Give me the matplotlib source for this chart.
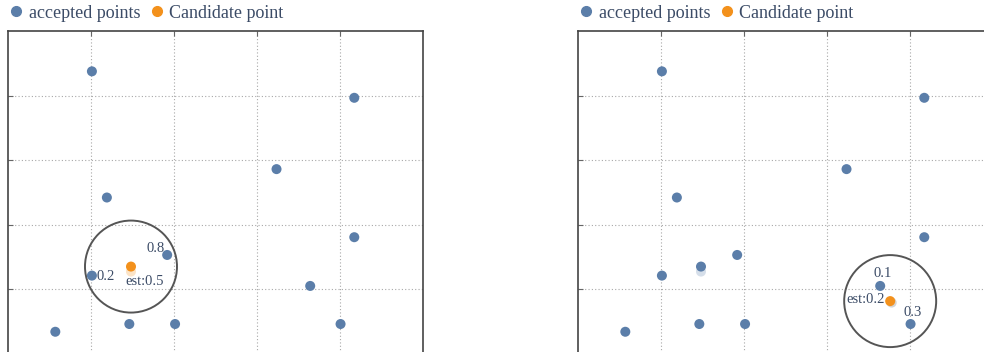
import matplotlib
matplotlib.use("Agg")
import matplotlib.pyplot as plt
from matplotlib.lines import Line2D
from matplotlib.transforms import ScaledTranslation
import numpy as np

# ---- data ----
accepted_x = [20.3, 83.4, 64.7, 23.9, 83.4, 38.4, 20.3, 72.8, 11.5, 29.3, 40.3, 80.1]
accepted_y = [87.5, 79.3, 57.2, 48.4, 36.1, 30.6, 24.2, 21.0, 6.8, 9.2, 9.2, 9.2]

cand1 = (29.7, 27.0)
cand1_est = "est:0.5"
cand1_neighbors = [5, 6]          # indices into accepted lists
cand1_labels = ["0.8", "0.2"]

cand2 = (75.2, 16.3)
cand2_est = "est:0.2"
cand2_neighbors = [7, 11]
cand2_labels = ["0.1", "0.3"]

grid_ticks = [20, 40, 60, 80]

BLUE = "#5b7ea9"
ORANGE = "#f3911c"
TEXT = "#3b4b66"
FONT = ["Liberation Serif", "DejaVu Serif"]
DOT = 52

W, H = 984, 352
fig = plt.figure(figsize=(W / 100, H / 100), dpi=100)

def px_axes(left_px):
    l = left_px / W
    w = 415.8 / W
    b = (H - 353.7) / H
    h = (353.7 - 31.0) / H
    return fig.add_axes([l, b, w, h])

def setup(ax):
    ax.set_xlim(0, 100)
    ax.set_ylim(0, 100)
    ax.set_xticks(grid_ticks)
    ax.set_yticks(grid_ticks)
    ax.tick_params(direction="in", length=3.5, width=0.8, color="#666666",
                   labelbottom=False, labelleft=False, top=True, bottom=False,
                   left=True, right=False)
    ax.grid(True, color="#a8a8a8", linestyle=(0, (1, 2)), linewidth=0.8)
    for s in ax.spines.values():
        s.set_color("#444444")
        s.set_linewidth(1.2)
    ax.set_axisbelow(True)
    leg = ax.legend(handles=[
        Line2D([], [], marker="o", ls="none", color=BLUE, markersize=7, label="accepted points"),
        Line2D([], [], marker="o", ls="none", color=ORANGE, markersize=7, label="Candidate point")],
        loc="lower left", bbox_to_anchor=(-0.031, 0.995), ncol=2, frameon=False,
        handletextpad=0.1, columnspacing=0.3, handlelength=1.2, borderaxespad=0.2,
        prop={"family": FONT, "size": 13})
    for t in leg.get_texts():
        t.set_color(TEXT)

def shadow_tr(ax, dx_px, dy_px):
    return ax.transData + ScaledTranslation(dx_px / 100, dy_px / 100, fig.dpi_scale_trans)

def draw(ax, ax_x, ax_y, cand, est, neigh, labels, label_offsets, est_offset, est_ha):
    ax.scatter(ax_x, ax_y, s=DOT, color=BLUE, edgecolors="none", zorder=3)
    ax.scatter([cand[0]], [cand[1]], s=DOT, color=ORANGE, edgecolors="none", zorder=4)
    # search radius circle (constant pixel radius)
    ax.scatter([cand[0]], [cand[1]], s=(92 * 0.72) ** 2, facecolors="none",
               edgecolors="#555555", linewidths=1.4, zorder=2)
    for i, lab, off in zip(neigh, labels, label_offsets):
        ax.annotate(lab, (ax_x[i], ax_y[i]), xytext=off, textcoords="offset points",
                    ha="center", va="center", color=TEXT, fontsize=10.5,
                    family=FONT, zorder=5)
    ax.annotate(est, cand, xytext=est_offset, textcoords="offset points",
                ha=est_ha, va="center", color=TEXT, fontsize=10.5, family=FONT, zorder=5)

ax1 = px_axes(7.5)
setup(ax1)
# faint reflection under candidate 1
ax1.scatter([cand1[0]], [cand1[1]], s=DOT, color=ORANGE, alpha=0.25,
            edgecolors="none", transform=shadow_tr(ax1, 0, -5), zorder=3)
draw(ax1, accepted_x, accepted_y, cand1, cand1_est, cand1_neighbors, cand1_labels,
     [(-8, 5), (10, -1)], (-4.3, -10.5), "left")

ax2_x = accepted_x + [cand1[0]]
ax2_y = accepted_y + [cand1[1]]
ax2 = px_axes(577.5)
setup(ax2)
ax2.scatter([cand1[0]], [cand1[1]], s=DOT, color=BLUE, alpha=0.25,
            edgecolors="none", transform=shadow_tr(ax2, 0, -5), zorder=2.5)
ax2.scatter([cand2[0]], [cand2[1]], s=DOT, color="#777777", alpha=0.3,
            edgecolors="none", transform=shadow_tr(ax2, 1.5, -1.5), zorder=3.5)
draw(ax2, ax2_x, ax2_y, cand2, cand2_est, cand2_neighbors, cand2_labels,
     [(1.5, 9), (1.2, 8.5)], (-3.8, 1.4), "right")

fig.savefig("out.png", dpi=100)
